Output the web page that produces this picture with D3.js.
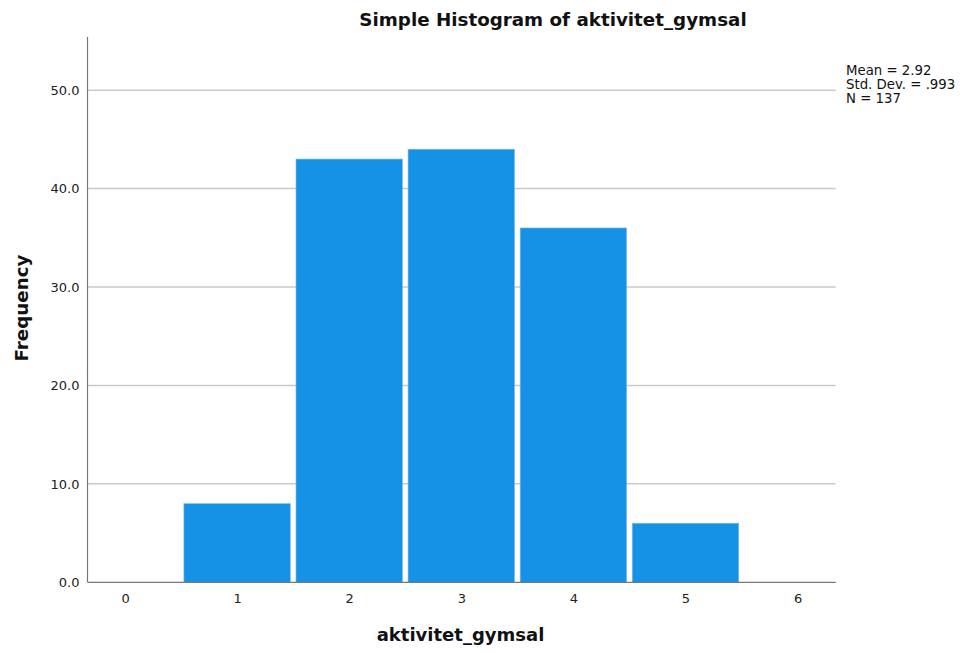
<!DOCTYPE html>
<html><head><meta charset="utf-8">
<script src="https://cdn.jsdelivr.net/npm/d3@7"></script>
<style>body{margin:0;background:#fff}svg{display:block}</style>
</head><body>
<svg id="c" width="960" height="653"></svg>
<script>
const categories = [1, 2, 3, 4, 5];
const frequencies = [8, 43, 44, 36, 6];
const xTicks = [0, 1, 2, 3, 4, 5, 6];
const yTicks = [0, 10, 20, 30, 40, 50];
const statsLines = ["Mean = 2.92", "Std. Dev. = .993", "N = 137"];
const titleText = "Simple Histogram of aktivitet_gymsal";
const xTitle = "aktivitet_gymsal";
const yTitle = "Frequency";

(function () {
const svg = d3.select("#c");
const mLeft = 87.5, mRight = 835.7, mTop = 37, mBottom = 582.3;
const x = d3.scaleLinear().domain([-0.335, 6.34]).range([mLeft, mRight]);
const y = d3.scaleLinear().domain([0, 55.4]).range([mBottom, mTop]);
const font = "'DejaVu Sans', Verdana, sans-serif";

// gridlines
svg.append("g").selectAll("line").data(yTicks.filter(d => d > 0)).join("line")
  .attr("x1", mLeft).attr("x2", mRight)
  .attr("y1", d => y(d)).attr("y2", d => y(d))
  .attr("stroke", "#c9c9c9").attr("stroke-width", 1.5);

// bars
const gap = 2.8;
svg.append("g").selectAll("rect").data(categories).join("rect")
  .attr("x", d => x(d - 0.5) + gap)
  .attr("width", d => x(d + 0.5) - x(d - 0.5) - 2 * gap)
  .attr("y", (d, i) => y(frequencies[i]))
  .attr("height", (d, i) => y(0) - y(frequencies[i]))
  .attr("fill", "#1591e6")
  .attr("stroke", "#7cc0f0").attr("stroke-width", 0.6);

// y axis
const yAxis = d3.axisLeft(y).tickValues(yTicks).tickFormat(d3.format(".1f")).tickSize(0).tickPadding(8);
const gy = svg.append("g").attr("transform", `translate(${mLeft},0)`).call(yAxis);
gy.select(".domain").remove();
gy.selectAll("text").attr("font-family", font).attr("font-size", 13).attr("fill", "#222");
svg.append("line").attr("x1", mLeft).attr("x2", mLeft).attr("y1", mTop).attr("y2", mBottom)
  .attr("stroke", "#777").attr("stroke-width", 1.2);

// x axis
const xAxis = d3.axisBottom(x).tickValues(xTicks).tickFormat(d3.format("d")).tickSize(0).tickPadding(11);
const gx = svg.append("g").attr("transform", `translate(0,${mBottom})`).call(xAxis);
gx.select(".domain").remove();
gx.selectAll("text").attr("font-family", font).attr("font-size", 13).attr("fill", "#222");
svg.append("line").attr("x1", mLeft).attr("x2", mRight).attr("y1", mBottom).attr("y2", mBottom)
  .attr("stroke", "#777").attr("stroke-width", 1.2);

// title
svg.append("text").attr("x", 553).attr("y", 26).attr("text-anchor", "middle")
  .attr("font-family", font).attr("font-weight", "bold").attr("font-size", 18.3).attr("fill", "#111")
  .text(titleText);

// axis titles
svg.append("text").attr("x", 460.5).attr("y", 641).attr("text-anchor", "middle")
  .attr("font-family", font).attr("font-weight", "bold").attr("font-size", 18).attr("fill", "#111")
  .text(xTitle);
svg.append("text").attr("transform", "translate(28,308) rotate(-90)").attr("text-anchor", "middle")
  .attr("font-family", font).attr("font-weight", "bold").attr("font-size", 18.3).attr("fill", "#111")
  .text(yTitle);

// stats
svg.append("g").selectAll("text").data(statsLines).join("text")
  .attr("x", 846).attr("y", (d, i) => 75 + i * 14)
  .attr("font-family", font).attr("font-size", 13.3).attr("fill", "#111")
  .text(d => d);
})();
</script>
</body></html>
